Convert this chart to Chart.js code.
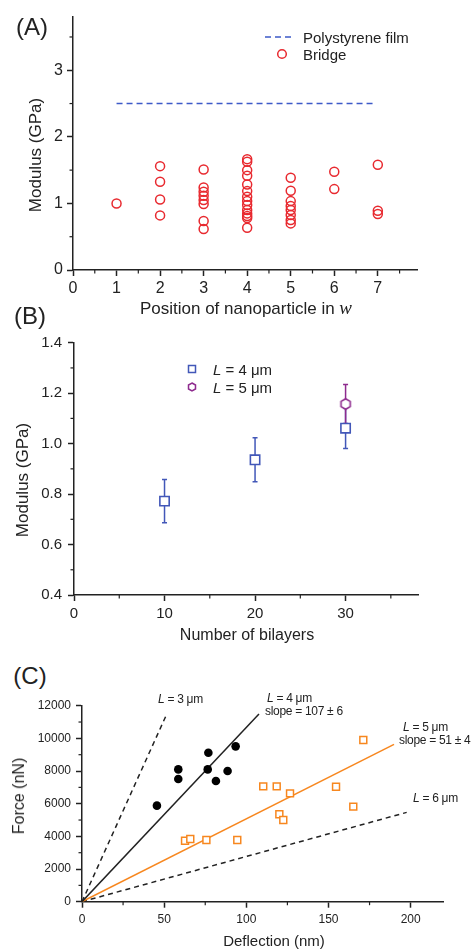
<!DOCTYPE html>
<html>
<head>
<meta charset="utf-8">
<script src="https://cdn.jsdelivr.net/npm/chart.js@4/dist/chart.umd.min.js"></script>
<style>
body { margin: 0; background: #fff; }
#wrap { position: relative; width: 471px; height: 951px; font-family: "Liberation Sans", Arial, sans-serif; color: #222; overflow: hidden; }
canvas { position: absolute; left: 0; }
.t { position: absolute; white-space: nowrap; line-height: 1; }
.c { transform: translate(-50%, -50%); }
.l { transform: translate(0, -50%); }
.r { transform: translate(-50%, -50%) rotate(-90deg); }
.mk { position: absolute; transform: translate(-50%, -50%); }
</style>
</head>
<body>
<div id="wrap">
  <canvas id="chartA" width="471" height="300" style="top:0"></canvas>
  <canvas id="chartB" width="471" height="320" style="top:325px"></canvas>
  <canvas id="chartC" width="471" height="261" style="top:690px"></canvas>

  <!-- etiquetas de panel -->
  <div class="t c" style="left:32px;top:27px;font-size:24px">(A)</div>
  <div class="t c" style="left:30px;top:316px;font-size:24px">(B)</div>
  <div class="t c" style="left:30px;top:676px;font-size:24px">(C)</div>

  <!-- titulos de ejes -->
  <div class="t r" style="left:35px;top:155px;font-size:17px">Modulus (GPa)</div>
  <div class="t c" style="left:246px;top:307px;font-size:17px">Position of nanoparticle in <i style="font-family:'Liberation Serif',serif;font-size:19px">w</i></div>
  <div class="t r" style="left:22px;top:480px;font-size:17px">Modulus (GPa)</div>
  <div class="t c" style="left:247px;top:635px;font-size:16px">Number of bilayers</div>
  <div class="t r" style="left:19px;top:796px;font-size:16px">Force (nN)</div>
  <div class="t c" style="left:274px;top:940px;font-size:15px">Deflection (nm)</div>

  <!-- leyenda A -->
  <svg class="mk" style="left:279px;top:37px" width="28" height="4"><line x1="0" y1="2" x2="28" y2="2" stroke="#3d5ac8" stroke-width="1.6" stroke-dasharray="6,4"/></svg>
  <div class="t l" style="left:303px;top:37px;font-size:15px">Polystyrene film</div>
  <svg class="mk" style="left:282px;top:54px" width="12" height="12"><circle cx="6" cy="6" r="4.3" fill="none" stroke="#e8292f" stroke-width="1.5"/></svg>
  <div class="t l" style="left:303px;top:54px;font-size:15px">Bridge</div>

  <!-- leyenda B -->
  <svg class="mk" style="left:192px;top:369px" width="10" height="10"><rect x="1.5" y="1.5" width="7" height="7" fill="#fff" stroke="#4257b8" stroke-width="1.5"/></svg>
  <div class="t l" style="left:213px;top:369px;font-size:15px"><i>L</i> = 4 μm</div>
  <svg class="mk" style="left:192px;top:387px" width="10" height="10"><polygon points="5,1 8.5,3 8.5,7 5,9 1.5,7 1.5,3" fill="#fff" stroke="#8e2b8e" stroke-width="1.5"/></svg>
  <div class="t l" style="left:213px;top:387px;font-size:15px"><i>L</i> = 5 μm</div>

  <!-- anotaciones C -->
  <div class="t l" style="left:158px;top:699px;font-size:12px;letter-spacing:-0.3px"><i>L</i> = 3 μm</div>
  <div class="t l" style="left:267px;top:698px;font-size:12px;letter-spacing:-0.3px"><i>L</i> = 4 μm</div>
  <div class="t l" style="left:265px;top:711px;font-size:12px;letter-spacing:-0.3px">slope = 107 ± 6</div>
  <div class="t l" style="left:403px;top:727px;font-size:12px;letter-spacing:-0.3px"><i>L</i> = 5 μm</div>
  <div class="t l" style="left:399px;top:740px;font-size:12px;letter-spacing:-0.3px">slope = 51 ± 4</div>
  <div class="t l" style="left:413px;top:798px;font-size:12px;letter-spacing:-0.3px"><i>L</i> = 6 μm</div>
</div>

<script>
// === DATOS PANEL A ===
const positions = [1, 2, 3, 4, 5, 6, 7];
const bridgeModulus = [
    [1.0],
    [1.56, 1.325, 1.06, 0.82],
    [1.51, 1.24, 1.175, 1.115, 1.05, 0.99, 0.735, 0.615],
    [1.665, 1.625, 1.5, 1.415, 1.285, 1.185, 1.10, 1.035, 0.975, 0.90, 0.85, 0.81, 0.78, 0.635],
    [1.385, 1.19, 1.035, 0.96, 0.90, 0.825, 0.75, 0.70],
    [1.475, 1.215],
    [1.58, 0.89, 0.84]
];
const filmX = [1, 6.9];
const filmY = [2.5, 2.5];

// === DATOS PANEL B ===
const bilayers4 = [10, 20, 30];
const modulus4 = [0.772, 0.936, 1.061];
const error4 = [0.086, 0.087, 0.080];
const bilayers5 = [30];
const modulus5 = [1.157];
const error5 = [0.077];

// === DATOS PANEL C ===
const deflL4 = [45.6, 58.6, 58.6, 76.9, 76.5, 81.5, 88.6, 93.5];
const forceL4 = [5880, 8100, 7510, 9120, 8100, 7390, 8000, 9510];
const deflL5 = [62.7, 65.9, 75.7, 94.5, 110.3, 118.5, 126.6, 120.1, 122.5, 154.6, 165.1, 171.2];
const forceL5 = [3735, 3840, 3780, 3780, 7060, 7060, 6630, 5350, 5000, 7040, 5820, 9900];
const lineL3X = [0, 51.5], lineL3Y = [0, 11470];
const lineL4X = [0, 107.7], lineL4Y = [0, 11490];
const lineL5X = [0, 189.9], lineL5Y = [0, 9630];
const lineL6X = [0, 197.6], lineL6Y = [0, 5470];

Chart.defaults.font.family = '"Liberation Sans", Arial, sans-serif';
Chart.defaults.color = '#222';

const pts = (xs, ys) => xs.map((x, i) => ({ x: x, y: ys[i] }));

// === PLUGINS ===
const minorTicks = {
    id: 'minorTicks',
    afterDraw(chart, args, opts) {
        const ctx = chart.ctx;
        ctx.save();
        ctx.strokeStyle = '#222';
        ctx.lineWidth = 1.2;
        ['x', 'y'].forEach(id => {
            const s = chart.scales[id];
            const step = opts[id];
            if (!step) return;
            for (let k = 1; s.min + k * step <= s.max + 1e-9; k++) {
                const v = Math.round((s.min + k * step) * 1000) / 1000;
                if (s.ticks.some(t => Math.abs(t.value - v) < 1e-6)) continue;
                const p = s.getPixelForValue(v);
                ctx.beginPath();
                if (id === 'x') { ctx.moveTo(p, s.top); ctx.lineTo(p, s.top + opts.len); }
                else { ctx.moveTo(s.right, p); ctx.lineTo(s.right - opts.len, p); }
                ctx.stroke();
            }
        });
        ctx.restore();
    }
};

const errorBars = {
    id: 'errorBars',
    beforeDatasetsDraw(chart) {
        const ctx = chart.ctx;
        const xs = chart.scales.x, ys = chart.scales.y;
        chart.data.datasets.forEach(ds => {
            if (!ds.errors) return;
            ctx.save();
            ctx.strokeStyle = ds.borderColor;
            ctx.lineWidth = 1.5;
            ds.data.forEach((p, i) => {
                const x = xs.getPixelForValue(p.x);
                const y1 = ys.getPixelForValue(p.y - ds.errors[i]);
                const y2 = ys.getPixelForValue(p.y + ds.errors[i]);
                ctx.beginPath();
                ctx.moveTo(x, y1); ctx.lineTo(x, y2);
                ctx.moveTo(x - 2.5, y1); ctx.lineTo(x + 2.5, y1);
                ctx.moveTo(x - 2.5, y2); ctx.lineTo(x + 2.5, y2);
                ctx.stroke();
            });
            ctx.restore();
        });
    }
};

// === EJES ===
function eje(horizontal, min, max, step, size, fontSize, pad, fmt) {
    return {
        type: 'linear',
        min: min,
        max: max,
        border: { display: true, color: '#222', width: 1.5 },
        grid: { display: true, drawOnChartArea: false, drawTicks: true, tickLength: 6, tickColor: '#222', tickWidth: 1.5 },
        ticks: { stepSize: step, includeBounds: false, font: { size: fontSize }, padding: pad, color: '#222', callback: fmt || (v => String(v)) },
        afterFit: s => { if (horizontal) s.height = size; else s.width = size; }
    };
}

function opciones(padding, ejeX, ejeY, minor) {
    return {
        responsive: false,
        animation: false,
        layout: { padding: padding },
        scales: { x: ejeX, y: ejeY },
        plugins: { legend: { display: false }, tooltip: { enabled: false }, minorTicks: minor }
    };
}

// === PANEL A ===
const bridgePoints = [];
positions.forEach((p, i) => bridgeModulus[i].forEach(m => bridgePoints.push({ x: p, y: m })));

new Chart(document.getElementById('chartA'), {
    type: 'scatter',
    data: {
        datasets: [
            { data: bridgePoints, pointStyle: 'circle', pointRadius: 4.5, borderColor: '#e8292f', backgroundColor: 'transparent', borderWidth: 1.5 },
            { data: pts(filmX, filmY), showLine: true, pointRadius: 0, borderColor: '#3d5ac8', borderWidth: 1.6, borderDash: [6, 4] }
        ]
    },
    options: opciones({ top: 17, right: 54, left: 0, bottom: 0 },
        eje(true, 0, 7.9, 1, 30, 16, 3),
        eje(false, 0, 3.8, 1, 73, 16, 4),
        { x: 0.5, y: 0.5, len: 3.5 }),
    plugins: [minorTicks]
});

// === PANEL B ===
const hexagono = document.createElement('canvas');
hexagono.width = 14; hexagono.height = 14;
(function() {
    const g = hexagono.getContext('2d');
    g.beginPath();
    for (let k = 0; k < 6; k++) {
        const a = Math.PI / 2 + k * Math.PI / 3;
        const px = 7 + 5.3 * Math.cos(a), py = 7 + 5.3 * Math.sin(a);
        if (k === 0) g.moveTo(px, py); else g.lineTo(px, py);
    }
    g.closePath();
    g.fillStyle = '#fff';
    g.fill();
    g.strokeStyle = '#8e2b8e';
    g.lineWidth = 1.6;
    g.stroke();
})();

new Chart(document.getElementById('chartB'), {
    type: 'scatter',
    data: {
        datasets: [
            { data: pts(bilayers4, modulus4), errors: error4, pointStyle: 'rect', pointRadius: 6.6, borderColor: '#4257b8', backgroundColor: '#fff', borderWidth: 1.6 },
            { data: pts(bilayers5, modulus5), errors: error5, pointStyle: hexagono, pointRadius: 6, borderColor: '#8e2b8e', backgroundColor: '#fff', borderWidth: 1.6 }
        ]
    },
    options: opciones({ top: 17.7, right: 53, left: 0, bottom: 0 },
        eje(true, 0, 38, 10, 50, 15, 4),
        eje(false, 0.4, 1.4, 0.2, 74, 15, 6, v => v.toFixed(1)),
        { x: 5, y: 0.1, len: 3.5 }),
    plugins: [minorTicks, errorBars]
});

// === PANEL C ===
new Chart(document.getElementById('chartC'), {
    type: 'scatter',
    data: {
        datasets: [
            { data: pts(deflL4, forceL4), pointStyle: 'circle', pointRadius: 4.3, borderWidth: 0, backgroundColor: '#000' },
            { data: pts(deflL5, forceL5), pointStyle: 'rect', pointRadius: 4.9, borderColor: '#f7871f', backgroundColor: '#fff', borderWidth: 1.5 },
            { data: pts(lineL3X, lineL3Y), showLine: true, pointRadius: 0, borderColor: '#222', borderWidth: 1.5, borderDash: [5, 4] },
            { data: pts(lineL4X, lineL4Y), showLine: true, pointRadius: 0, borderColor: '#222', borderWidth: 1.5 },
            { data: pts(lineL5X, lineL5Y), showLine: true, pointRadius: 0, borderColor: '#f7871f', borderWidth: 1.5 },
            { data: pts(lineL6X, lineL6Y), showLine: true, pointRadius: 0, borderColor: '#222', borderWidth: 1.5, borderDash: [5, 4] }
        ]
    },
    options: opciones({ top: 15.7, right: 27.5, left: 0, bottom: 0 },
        eje(true, 0, 220, 50, 49.3, 12, 5),
        eje(false, 0, 12000, 2000, 82, 12, 5),
        { x: 25, y: 1000, len: 3.5 }),
    plugins: [minorTicks]
});
</script>
</body>
</html>
